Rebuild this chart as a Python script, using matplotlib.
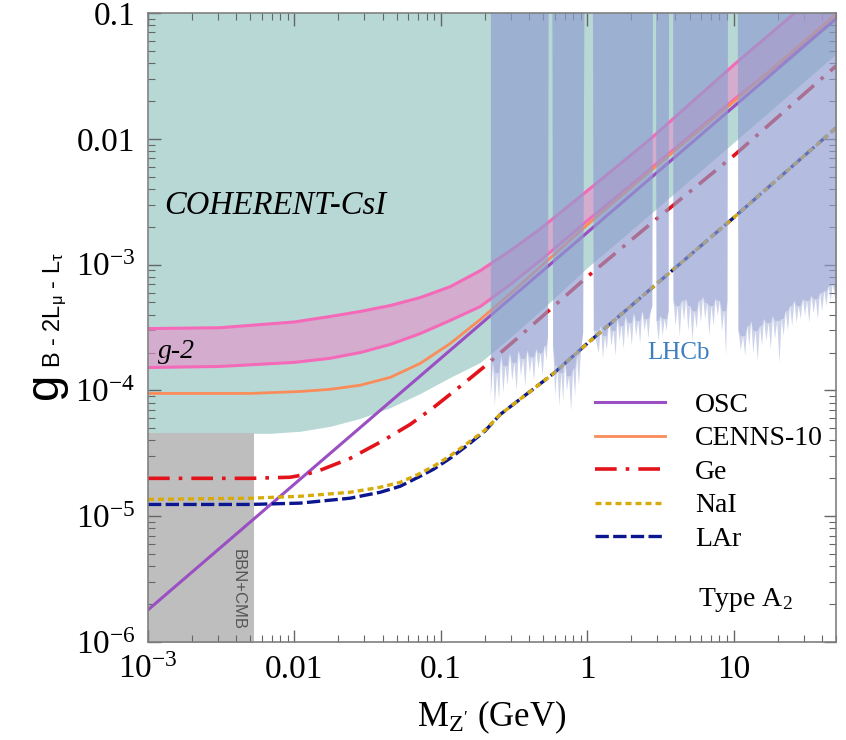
import numpy as np
import matplotlib
matplotlib.use('Agg')
import matplotlib.pyplot as plt
from matplotlib.ticker import LogLocator, FuncFormatter, NullFormatter

plt.rcParams['font.family'] = ['Liberation Serif', 'DejaVu Serif']
plt.rcParams['mathtext.fontset'] = 'custom'
plt.rcParams['mathtext.rm'] = 'Liberation Serif'
plt.rcParams['mathtext.it'] = 'Liberation Serif:italic'
plt.rcParams['mathtext.bf'] = 'Liberation Serif:bold'
plt.rcParams['mathtext.sf'] = 'Liberation Sans'

# --- data (M in GeV, coupling g) ---
osc_mass = [1e-3, 50]
osc_g = [1.8e-6, 0.09]

cenns_mass = [1e-3, 5e-3, 0.0109, 0.01755, 0.0282, 0.0452, 0.0724, 0.116, 0.186, 0.298, 0.48, 1.0, 2.71, 10, 50]
cenns_g = [9.46e-5, 9.46e-5, 9.8e-5, 1.02e-4, 1.1e-4, 1.27e-4, 1.64e-4, 2.36e-4, 3.66e-4, 5.89e-4,
           9.64e-4, 2.07e-3, 5.57e-3, 0.0197, 0.098]

ge_mass = [1e-3, 5e-3, 9.35e-3, 0.012, 0.015, 0.024, 0.0405, 0.0618, 0.089, 0.136, 0.195, 0.35, 1.0, 2.71, 10, 50]
ge_g = [2.0e-5, 2.0e-5, 2.04e-5, 2.15e-5, 2.32e-5, 2.88e-5, 4.0e-5, 5.37e-5, 7.3e-5, 1.08e-4, 1.52e-4,
        2.73e-4, 8.0e-4, 2.11e-3, 7.33e-3, 0.0379]

nai_mass = [1e-3, 5e-3, 0.0109, 0.024, 0.0386, 0.0528, 0.07, 0.089, 0.115, 0.152, 0.2, 0.255, 0.587, 1.0, 10, 50]
nai_g = [1.36e-5, 1.39e-5, 1.44e-5, 1.55e-5, 1.7e-5, 1.86e-5, 2.15e-5, 2.49e-5, 3.0e-5, 3.8e-5, 4.82e-5,
         6.45e-5, 1.36e-4, 2.36e-4, 2.36e-3, 0.0122]
lar_g = [1.24e-5, 1.24e-5, 1.27e-5, 1.39e-5, 1.55e-5, 1.73e-5, 2.04e-5, 2.36e-5, 2.87e-5, 3.66e-5, 4.75e-5,
         6.45e-5, 1.36e-4, 2.36e-4, 2.36e-3, 0.0122]

gm2_mass = [1e-3, 3.1e-3, 0.01, 0.01755, 0.0282, 0.0452, 0.0724, 0.116, 0.186, 0.298, 0.48, 1.0, 2.71, 10, 50]
gm2_upper = [3.1e-4, 3.15e-4, 3.5e-4, 3.87e-4, 4.24e-4, 4.73e-4, 5.47e-4, 6.68e-4, 8.95e-4, 1.29e-3,
             1.93e-3, 3.86e-3, 0.01, 0.0386, 0.19]
gm2_lower = [1.52e-4, 1.55e-4, 1.67e-4, 1.8e-4, 2.0e-4, 2.32e-4, 2.83e-4, 3.6e-4, 4.64e-4, 6.94e-4,
             1.08e-3, 2.23e-3, 5.78e-3, 0.0204, 0.0895]

csi_mass = [1e-3, 6.83e-3, 0.0109, 0.01755, 0.0282, 0.0452, 0.0724, 0.116, 0.186, 0.298, 0.48, 1.0, 2.71, 9.1, 50]
csi_g = [4.56e-5, 4.56e-5, 4.73e-5, 5.18e-5, 6.0e-5, 7.3e-5, 9.46e-5, 1.27e-4, 1.67e-4, 2.64e-4,
         4.3e-4, 9.46e-4, 2.54e-3, 8.5e-3, 0.0473]

bbn_mass = [1e-3, 5.3e-3]
bbn_g = 4.56e-5

# LHCb dark photon search, lower edge of excluded region (1.0 = no limit)
lhcb_mass = [0.218, 0.225, 0.232, 0.24, 0.248, 0.256, 0.265, 0.274, 0.284, 0.294,
             0.305, 0.316, 0.327, 0.338, 0.35, 0.362, 0.375, 0.388, 0.402, 0.416,
             0.43, 0.445, 0.46, 0.476, 0.492, 0.508, 0.525, 0.535,
             0.542, 0.572,
             0.58, 0.6, 0.62, 0.64, 0.66, 0.68, 0.70, 0.72, 0.745, 0.77,
             0.795, 0.82, 0.845, 0.87, 0.9, 0.93,
             0.955, 1.08,
             1.1, 1.19, 1.23, 1.27, 1.31, 1.35, 1.4, 1.45, 1.5, 1.55,
             1.6, 1.65, 1.7, 1.76, 1.82, 1.88, 1.94, 2.0, 2.07, 2.14,
             2.21, 2.28, 2.36, 2.44, 2.52, 2.6, 2.68, 2.76,
             2.8, 2.92,
             2.95, 3.05, 3.15, 3.25, 3.35, 3.45, 3.57,
             3.6, 3.82,
             3.85, 3.98, 4.11, 4.25, 4.4, 4.55, 4.7, 4.86, 5.02, 5.19,
             5.37, 5.55, 5.74, 5.93, 6.13, 6.34, 6.55, 6.77, 7.0, 7.24,
             7.48, 7.73, 7.99, 8.26, 8.54, 8.8, 9.0,
             9.1, 10.55,
             10.7, 11.1, 11.5, 11.9, 12.3, 12.7, 13.1, 13.5, 14.0, 14.5,
             15.0, 15.5, 16.0, 16.6, 17.2, 17.8, 18.4, 19.0, 19.7, 20.4,
             21.1, 21.8, 22.5, 23.3, 24.1, 24.9, 25.8, 26.7, 27.6, 28.5,
             29.5, 30.5, 31.5, 32.6, 33.7, 34.9, 36.1, 37.3, 38.6, 39.9,
             41.3, 42.7, 44.2, 45.7, 47.3, 48.9, 50]
lhcb_g = [9.1e-5, 1.73e-4, 7.6e-5, 1.39e-4, 8.6e-5, 1.9e-4, 9.6e-5, 1.58e-4, 1.1e-4, 2.0e-4,
          1.2e-4, 1.67e-4, 1.0e-4, 2.1e-4, 1.31e-4, 1.8e-4, 1.08e-4, 2.1e-4, 1.39e-4, 1.86e-4,
          1.2e-4, 2.15e-4, 1.5e-4, 2.0e-4, 1.31e-4, 2.28e-4, 1.73e-4, 2.73e-4,
          1.0, 1.0,
          2.28e-4, 9.1e-5, 1.58e-4, 7.6e-5, 1.39e-4, 8.3e-5, 1.73e-4, 1.0e-4, 1.31e-4, 6.9e-5,
          1.5e-4, 9.1e-5, 1.9e-4, 1.1e-4, 2.1e-4, 2.89e-4,
          1.0, 1.0,
          3.0e-4, 2.0e-4, 3.28e-4, 1.8e-4, 2.73e-4, 2.1e-4, 3.6e-4, 2.28e-4, 3.0e-4, 1.9e-4,
          3.73e-4, 2.5e-4, 3.28e-4, 2.15e-4, 3.94e-4, 2.59e-4, 3.47e-4, 2.28e-4, 4.16e-4, 2.73e-4,
          3.6e-4, 2.4e-4, 4.3e-4, 3.0e-4, 3.73e-4, 2.59e-4, 4.16e-4, 4.73e-4,
          1.0, 1.0,
          3.6e-4, 2.5e-4, 3.94e-4, 2.73e-4, 3.73e-4, 3.0e-4, 4.3e-4,
          1.0, 1.0,
          5.2e-4, 3.28e-4, 4.73e-4, 2.73e-4, 5.2e-4, 3.6e-4, 5.37e-4, 3.0e-4, 4.73e-4, 2.5e-4,
          4.3e-4, 3.1e-4, 5.2e-4, 3.47e-4, 5.57e-4, 3.73e-4, 5.0e-4, 2.73e-4, 4.73e-4, 3.28e-4,
          5.37e-4, 3.94e-4, 5.2e-4, 3.0e-4, 4.3e-4, 1.9e-4, 5.2e-4,
          1.0, 1.0,
          3.0e-4, 2.1e-4, 2.73e-4, 1.9e-4, 3.28e-4, 2.28e-4, 3.6e-4, 2.0e-4, 3.0e-4, 1.73e-4,
          3.28e-4, 2.28e-4, 3.73e-4, 2.5e-4, 3.47e-4, 2.15e-4, 3.94e-4, 2.59e-4, 3.6e-4, 1.67e-4,
          3.73e-4, 2.73e-4, 4.3e-4, 3.0e-4, 4.73e-4, 3.28e-4, 5.2e-4, 3.47e-4, 4.73e-4, 3.73e-4,
          5.37e-4, 3.94e-4, 5.2e-4, 3.47e-4, 5.68e-4, 4.16e-4, 5.37e-4, 3.73e-4, 6.0e-4, 4.3e-4,
          6.2e-4, 4.73e-4, 6.8e-4, 5.2e-4, 7.2e-4, 5.37e-4, 6.2e-4]

# solid part of the LHCb band: fill each downward spike up to its shallower neighbour
lg = np.array(lhcb_g)
lhcb_env = lg.copy()
lhcb_env[1:-1] = np.maximum(lg[1:-1], np.minimum(lg[:-2], lg[2:]))

# --- figure ---
fig = plt.figure(figsize=(8.46, 7.4), dpi=100)
ax = fig.add_axes([148/846, 1 - 642/740, 688/846, 629/740])
ax.set_xscale('log')
ax.set_yscale('log')
ax.set_xlim(1e-3, 50)
ax.set_ylim(1e-6, 0.1)

# excluded regions
ax.fill_between(csi_mass, csi_g, 1.0, color='#b8d8d6', lw=0, zorder=1)
ax.fill_between(bbn_mass, 1e-7, bbn_g, color='#bebebe', lw=0, zorder=1.5)
ax.fill_between(gm2_mass, gm2_lower, gm2_upper, color='#e88fc8', alpha=0.6, lw=0, zorder=2)
ax.plot(gm2_mass, gm2_upper, color='#f46ab8', lw=2.2, zorder=2.5)
ax.plot(gm2_mass, gm2_lower, color='#f46ab8', lw=2.2, zorder=2.5)

# sensitivity curves
h_osc, = ax.plot(osc_mass, osc_g, color='#9a4fc2', lw=2.2, zorder=3, label='OSC')
h_cen, = ax.plot(cenns_mass, cenns_g, color='#fa8c5a', lw=2.0, zorder=3, label='CENNS-10')
h_ge, = ax.plot(ge_mass, ge_g, color='#e3131b', lw=2.6, zorder=3, label='Ge',
                dashes=(6, 2.5, 1, 2.5), dash_capstyle='butt')
h_lar, = ax.plot(nai_mass, lar_g, color='#0b168f', lw=2.4, zorder=3, label='LAr',
                 dashes=(4, 1.3), dash_capstyle='butt')
h_nai, = ax.plot(nai_mass, nai_g, color='#d8ab0c', lw=2.4, zorder=3.1, label='NaI',
                 dashes=(1.8, 1.2), dash_capstyle='butt')

# LHCb on top (semi-transparent): light spikes + solid band
ax.fill_between(lhcb_mass, lhcb_g, 1.0, color='#909ed0', alpha=0.45, lw=0, zorder=4)
ax.fill_between(lhcb_mass, lhcb_env, 1.0, color='#909ed0', alpha=0.4, lw=0, zorder=4.1)

# labels inside the plot
ax.text(1.3e-3, 2.94e-3, 'COHERENT-CsI', style='italic', fontsize=23.5, va='center', zorder=6)
ax.text(1.17e-3, 2.05e-4, 'g-2', style='italic', fontsize=20, va='center', zorder=6)
ax.text(4.2, 2.0e-4, 'LHCb', color='#3d7ebf', fontsize=18, ha='center', va='center', zorder=6)
ax.text(5.67, 2.15e-6, 'Type A$_2$', fontsize=20, va='center', zorder=6)
ax.text(4.1e-3, 2.6e-6, 'BBN+CMB', family='Liberation Sans', color='#555555', fontsize=12,
        rotation=270, ha='center', va='center', zorder=6)

leg = ax.legend(handles=[h_osc, h_cen, h_ge, h_nai, h_lar], loc='upper left',
                bbox_to_anchor=(0.65, 0.397), frameon=False, fontsize=20,
                handlelength=2.5, handletextpad=1.1, labelspacing=0.29,
                borderpad=0, borderaxespad=0)
leg.set_zorder(7)

# axes styling
def tick_fmt(v, pos):
    e = int(round(np.log10(v)))
    if e <= -3:
        return r'$10^{%d}$' % e
    return '%g' % v

for axis in (ax.xaxis, ax.yaxis):
    axis.set_major_locator(LogLocator(base=10, numticks=20))
    axis.set_minor_locator(LogLocator(base=10, subs=np.arange(2, 10), numticks=20))
    axis.set_major_formatter(FuncFormatter(tick_fmt))
    axis.set_minor_formatter(NullFormatter())

ax.tick_params(which='both', direction='in', top=True, right=True, color='#666666')
ax.tick_params(which='major', length=9, width=1.0, labelsize=24, pad=9)
ax.tick_params(which='minor', length=5, width=0.8)
for s in ax.spines.values():
    s.set_color('#808080')
    s.set_linewidth(1.2)
    s.set_zorder(8)

ax.set_xlabel("M$_{\\mathrm{Z'}}$ (GeV)", fontsize=25, labelpad=10)

fig.text(45/846, 1 - 386/740, 'g', family='Liberation Sans', fontsize=34,
         rotation=90, ha='center', va='center')
fig.text(55/846, 1 - 310/740, r'B - 2L$_{\mathsf{μ}}$ - L$_{\mathsf{τ}}$', family='Liberation Sans',
         fontsize=17, rotation=90, ha='center', va='center')

fig.savefig('out.png', dpi=100)
